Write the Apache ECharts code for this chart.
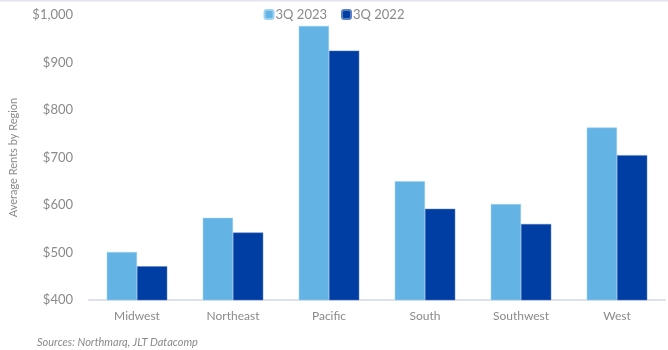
<!DOCTYPE html>
<html>
<head>
<meta charset="utf-8">
<script src="https://cdn.jsdelivr.net/npm/echarts@6/dist/echarts.min.js"></script>
<style>
  html, body { margin: 0; padding: 0; background: #fff; }
  #chart { width: 668px; height: 350px; }
</style>
</head>
<body>
<div id="chart"></div>
<script>
// average rents by region
const regions = ['Midwest', 'Northeast', 'Pacific', 'South', 'Southwest', 'West'];
const rents2023 = [501, 573, 977, 650, 602, 763];
const rents2022 = [471, 542, 925, 592, 560, 705];
const seriesNames = ['3Q 2023', '3Q 2022'];

const textGrey = '#8a8a8a';
const fontFamily = 'Lato, "Noto Sans", sans-serif';

const chart = echarts.init(document.getElementById('chart'));

chart.setOption({
  animation: false,
  textStyle: { fontFamily },
  legend: {
    top: 3,
    left: 'center',
    itemWidth: 9,
    itemHeight: 9,
    itemGap: 14,
    textStyle: { color: textGrey, fontSize: 13, padding: [0, 0, 0, -3] },
    data: seriesNames,
  },
  grid: {
    left: 88,
    right: 3,
    top: 15,
    bottom: 50,
  },
  xAxis: {
    type: 'category',
    data: regions,
    axisTick: { show: false },
    axisLine: { lineStyle: { color: '#dde1ec', width: 2 } },
    axisLabel: { color: textGrey, fontSize: 12, margin: 10 },
  },
  yAxis: {
    type: 'value',
    min: 400,
    max: 1000,
    interval: 100,
    name: 'Average Rents by Region',
    nameLocation: 'middle',
    nameGap: 70,
    nameTextStyle: { color: textGrey, fontSize: 11 },
    splitLine: { show: false },
    axisLine: { show: false },
    axisTick: { show: false },
    axisLabel: {
      color: textGrey,
      fontSize: 13,
      margin: 16,
      formatter: v => '$' + v.toLocaleString('en-US'),
    },
  },
  series: [
    {
      name: seriesNames[0],
      type: 'bar',
      data: rents2023,
      barGap: '0%',
      barCategoryGap: '37%',
      itemStyle: { color: '#63b4e4', borderColor: '#9fd0ef', borderWidth: 0.5 },
    },
    {
      name: seriesNames[1],
      type: 'bar',
      data: rents2022,
      itemStyle: { color: '#003ea3', borderColor: '#5a80c4', borderWidth: 0.5 },
    },
  ],
  graphic: [
    {
      type: 'rect',
      shape: { x: 0, y: 0, width: 668, height: 1.5 },
      style: { fill: '#e2e5f1' },
    },
    {
      type: 'text',
      left: 37,
      top: 337,
      style: {
        text: 'Sources: Northmarq, JLT Datacomp',
        fill: textGrey,
        font: 'italic 11px ' + fontFamily,
      },
    },
  ],
});
</script>
</body>
</html>
